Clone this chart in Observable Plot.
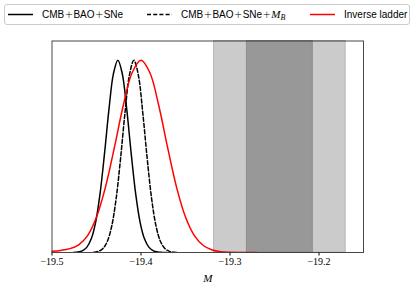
<!DOCTYPE html>
<html><head><meta charset="utf-8">
<script src="https://cdn.jsdelivr.net/npm/d3@7"></script>
<script src="https://cdn.jsdelivr.net/npm/@observablehq/plot@0.6"></script>
<style>
body{margin:0;background:#fff;}
#wrap{position:relative;width:415px;height:285px;}
#wrap svg{position:absolute;left:0;top:0;}
#legendBox{position:absolute;left:4px;top:4px;width:406px;height:21px;box-sizing:border-box;border:1px solid #cccccc;border-radius:3px;background:#fff;}
.item{position:absolute;top:8px;height:13px;line-height:13px;font-family:"Liberation Sans",sans-serif;font-size:10px;color:#000;white-space:nowrap;}
.item svg{position:absolute;left:0;top:0;}
.item .lab{position:absolute;top:0;}
.plus{margin:0 0.4px;font-family:"DejaVu Sans",sans-serif;font-weight:200;font-size:10px;}
.m{font-family:"Liberation Serif",serif;font-style:italic;font-size:11px;}
sub.m{font-style:italic;font-size:8px;vertical-align:-2px;line-height:0;}
</style></head><body><div id="wrap"></div>
<script>
// Series
const seriesNames = ["CMB+BAO+SNe", "CMB+BAO+SNe+M_B", "Inverse ladder"];
const seriesColors = ["#000000", "#000000", "#ff0000"];
const seriesDash = [null, "4,2.2", null];

// CMB+BAO+SNe (solid black)
const blackX = [-19.476,-19.471,-19.466,-19.461,-19.456,-19.451,-19.446,-19.441,-19.436,-19.431,-19.426,-19.421,-19.416,-19.411,-19.406,-19.401,-19.396,-19.391,-19.386,-19.381,-19.376,-19.371];
const blackY = [0.0006,0.0025,0.0088,0.0267,0.0697,0.157,0.306,0.514,0.744,0.929,1.0,0.929,0.744,0.514,0.306,0.157,0.0697,0.0267,0.0088,0.0025,0.0006,0.0001];

// CMB+BAO+SNe+M_B (dashed black)
const dashX = [-19.453,-19.448,-19.443,-19.438,-19.433,-19.428,-19.423,-19.418,-19.413,-19.408,-19.403,-19.398,-19.393,-19.388,-19.383,-19.378,-19.373,-19.368,-19.363,-19.358];
const dashY = [0.0015,0.0060,0.0198,0.0561,0.135,0.278,0.487,0.726,0.923,1.0,0.923,0.726,0.487,0.278,0.135,0.0561,0.0198,0.0060,0.0015,0.0003];

// Inverse ladder (red)
const redX = [-19.50,-19.49,-19.48,-19.47,-19.46,-19.45,-19.44,-19.43,-19.42,-19.41,-19.40,-19.39,-19.38,-19.37,-19.36,-19.35,-19.34,-19.33,-19.32,-19.31,-19.30,-19.29,-19.28,-19.27];
const redY = [0.007,0.011,0.020,0.040,0.0878,0.1845,0.339,0.544,0.763,0.935,1.0,0.935,0.763,0.544,0.339,0.1845,0.0878,0.0364,0.0132,0.0042,0.0012,0.0003,0.0001,0.0];

// SH0ES M_B band
const shoesMean = -19.244;
const shoesSigma = 0.037;

// Axis
const xTicks = [-19.5, -19.4, -19.3, -19.2];
const xDomain = [-19.5, -19.15];
const xLabel = "M";

const seriesX = [blackX, dashX, redX];
const seriesY = [blackY, dashY, redY];

const bands = [
  {x1: shoesMean - 2*shoesSigma, x2: shoesMean + 2*shoesSigma, fill: "#cbcbcb", edge: "#b9b9b9"},
  {x1: shoesMean - shoesSigma, x2: shoesMean + shoesSigma, fill: "#989898", edge: "#8c8c8c"}
];

const lineMarks = seriesNames.map((name, i) => {
  const rows = seriesX[i].map((x, j) => ({x, y: seriesY[i][j]}));
  const opts = {x: "x", y: "y", stroke: seriesColors[i], strokeWidth: 1.5, curve: "catmull-rom", clip: true};
  if (seriesDash[i]) opts.strokeDasharray = seriesDash[i];
  return Plot.line(rows, opts);
});

const chart = Plot.plot({
  width: 415, height: 285,
  marginLeft: 51.5, marginRight: 52, marginTop: 40.5, marginBottom: 33,
  x: {domain: xDomain, ticks: xTicks, tickFormat: d3.format(".1f"), tickSize: 3.5, tickPadding: 2,
      label: xLabel, labelAnchor: "center", labelArrow: "none", labelOffset: 29},
  y: {domain: [0, 1.1], axis: null},
  style: {fontFamily: "'Liberation Serif', serif", fontSize: "10px", color: "#000", background: "transparent"},
  marks: [
    Plot.rect(bands, {x1: "x1", x2: "x2", fill: "fill", stroke: "edge", strokeWidth: 1}),
    ...lineMarks,
    Plot.frame({stroke: "#333", strokeWidth: 0.9})
  ]
});
const lab = chart.querySelector('g[aria-label="x-axis label"] text');
if (lab) { lab.style.fontStyle = "italic"; lab.style.fontSize = "11px"; }

const wrap = document.getElementById("wrap");
wrap.appendChild(chart);

// Legend
const box = document.createElement("div");
box.id = "legendBox";
wrap.appendChild(box);
const itemLeft = [8, 147, 310];
seriesNames.forEach((name, i) => {
  const it = document.createElement("div");
  it.className = "item";
  it.style.left = itemLeft[i] + "px";
  const dash = seriesDash[i] ? ` stroke-dasharray="${seriesDash[i]}"` : "";
  const html = name
    .replace("+M_B", "+<span class='m'>M</span><sub class='m'>B</sub>")
    .split("+").join("<span class='plus'>+</span>");
  it.innerHTML = `<svg width="26" height="13"><line x1="0" x2="25" y1="6.5" y2="6.5" stroke="${seriesColors[i]}" stroke-width="1.5"${dash}/></svg><span class="lab" style="left:34px">${html}</span>`;
  wrap.appendChild(it);
});
</script>
</body></html>
